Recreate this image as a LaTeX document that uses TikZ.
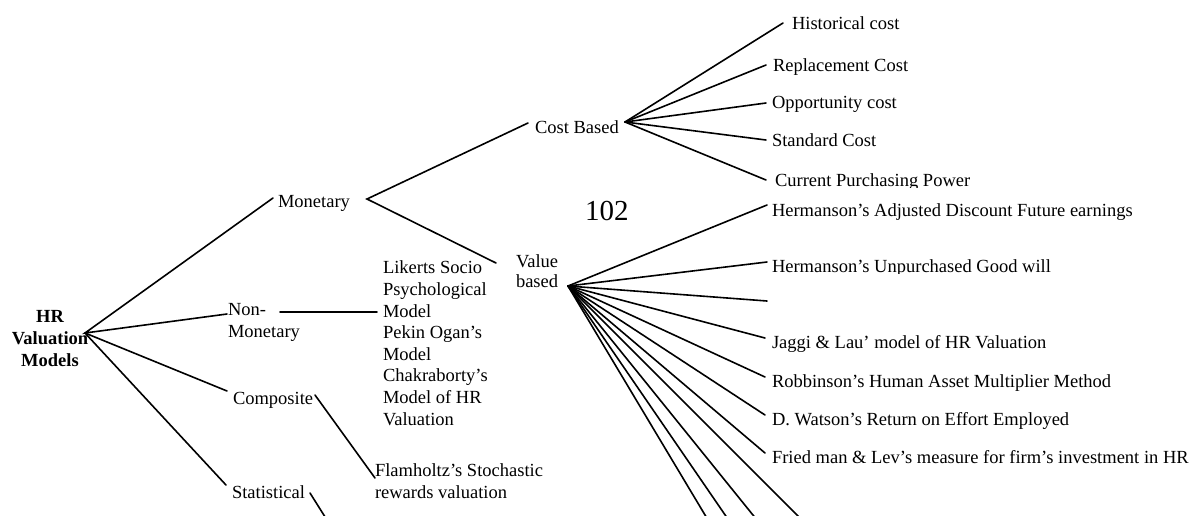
\documentclass[tikz,border=0pt]{standalone}
\usepackage{fontspec}
\setmainfont{Liberation Serif}
\begin{document}
\begin{tikzpicture}[x=1pt,y=-1pt,
  txt/.style={inner sep=0pt, outer sep=0pt, anchor=base west, font=\fontsize{18.5}{21.6}\selectfont},
  link/.style={line width=1.6pt, line cap=round}]
\useasboundingbox (0,0) rectangle (1202,515);

% ---- texts (multi-line nodes: base = baseline of last line) ----
\node[txt, font=\bfseries\fontsize{18.5}{21.6}\selectfont, align=center, anchor=base] (hr) at (50,366) {HR\\Valuation\\Models};
\node[txt] (mon) at (278,207) {Monetary};
\node[txt, align=left] (non) at (228,337) {Non-\\Monetary};
\node[txt] (comp) at (233,404) {Composite};
\node[txt] (stat) at (232,498) {Statistical};
\node[txt, align=left] (lik) at (383,425) {Likerts Socio\\Psychological\\Model\\Pekin Ogan’s\\Model\\Chakraborty’s\\Model of HR\\Valuation};
\node[txt, align=left] (flam) at (375,498.5) {Flamholtz’s Stochastic\\rewards valuation};
\node[txt] (cost) at (535,133) {Cost Based};
\node[txt, align=left, font=\fontsize{18.5}{20}\selectfont] (val) at (516,287) {Value\\based};
\node[txt, font=\fontsize{29}{34}\selectfont] (num) at (585,220) {102};

\node[txt] (hist) at (792,29) {Historical cost};
\node[txt] (repl) at (773,71) {Replacement Cost};
\node[txt] (opp) at (772,108) {Opportunity cost};
\node[txt] (std) at (772,146) {Standard Cost};
\begin{scope}
  \clip (760,150) rectangle (1100,187.5);
  \node[txt] (cpp) at (775,186) {Current Purchasing Power};
\end{scope}
\node[txt] (hadj) at (772,216) {Hermanson’s Adjusted Discount Future earnings};
\begin{scope}
  \clip (760,240) rectangle (1100,273.5);
  \node[txt] (hunp) at (772,272) {Hermanson’s Unpurchased Good will};
\end{scope}
\node[txt] (jag) at (772,348) {Jaggi \& Lau’ model of HR Valuation};
\node[txt] (rob) at (772,387) {Robbinson’s Human Asset Multiplier Method};
\node[txt] (wat) at (772,425) {D. Watson’s Return on Effort Employed};
\node[txt] (fri) at (772,463) {Fried man \& Lev’s measure for firm’s investment in HR};

% ---- connector points ----
\coordinate (hrR) at (85,333);
\coordinate (monL) at (273,198);
\coordinate (nonL) at (227,314);
\coordinate (compL) at (227,391);
\coordinate (statL) at (226,485);
\coordinate (monR) at (367,199);
\coordinate (nonR) at (280,312);
\coordinate (likL) at (377,312);
\coordinate (compR) at (315,395);
\coordinate (flamL) at (375,478);
\coordinate (statR) at (310,493);
\coordinate (statE) at (327,520);
\coordinate (costL) at (528,123);
\coordinate (costR) at (625,122);
\coordinate (valL) at (496,263);
\coordinate (valR) at (568,286);
\coordinate (histL) at (783,23);
\coordinate (replL) at (766,65);
\coordinate (oppL) at (766,103);
\coordinate (stdL) at (766,140);
\coordinate (cppL) at (766,180);
\coordinate (hadjL) at (767,205);
\coordinate (hunpL) at (767,262);
\coordinate (emptyL) at (767,301);
\coordinate (jagL) at (765,338);
\coordinate (robL) at (765,377);
\coordinate (watL) at (765,415);
\coordinate (friL) at (765,453);
\coordinate (b1) at (711,525);
\coordinate (b2) at (732,525);
\coordinate (b3) at (761,525);
\coordinate (b4) at (807,525);

% ---- connectors ----
\draw[link] (monL) -- (hrR) -- (nonL);
\draw[link] (hrR) -- (compL);
\draw[link] (hrR) -- (statL);
\draw[link] (nonR) -- (likL);
\draw[link] (compR) -- (flamL);
\draw[link] (statR) -- (statE);
\draw[link] (costL) -- (monR) -- (valL);
\foreach \t in {histL,replL,oppL,stdL,cppL}
  \draw[link] (costR) -- (\t);
\foreach \t in {hadjL,hunpL,emptyL,jagL,robL,watL,friL,b1,b2,b3,b4}
  \draw[link] (valR) -- (\t);
\end{tikzpicture}
\end{document}
